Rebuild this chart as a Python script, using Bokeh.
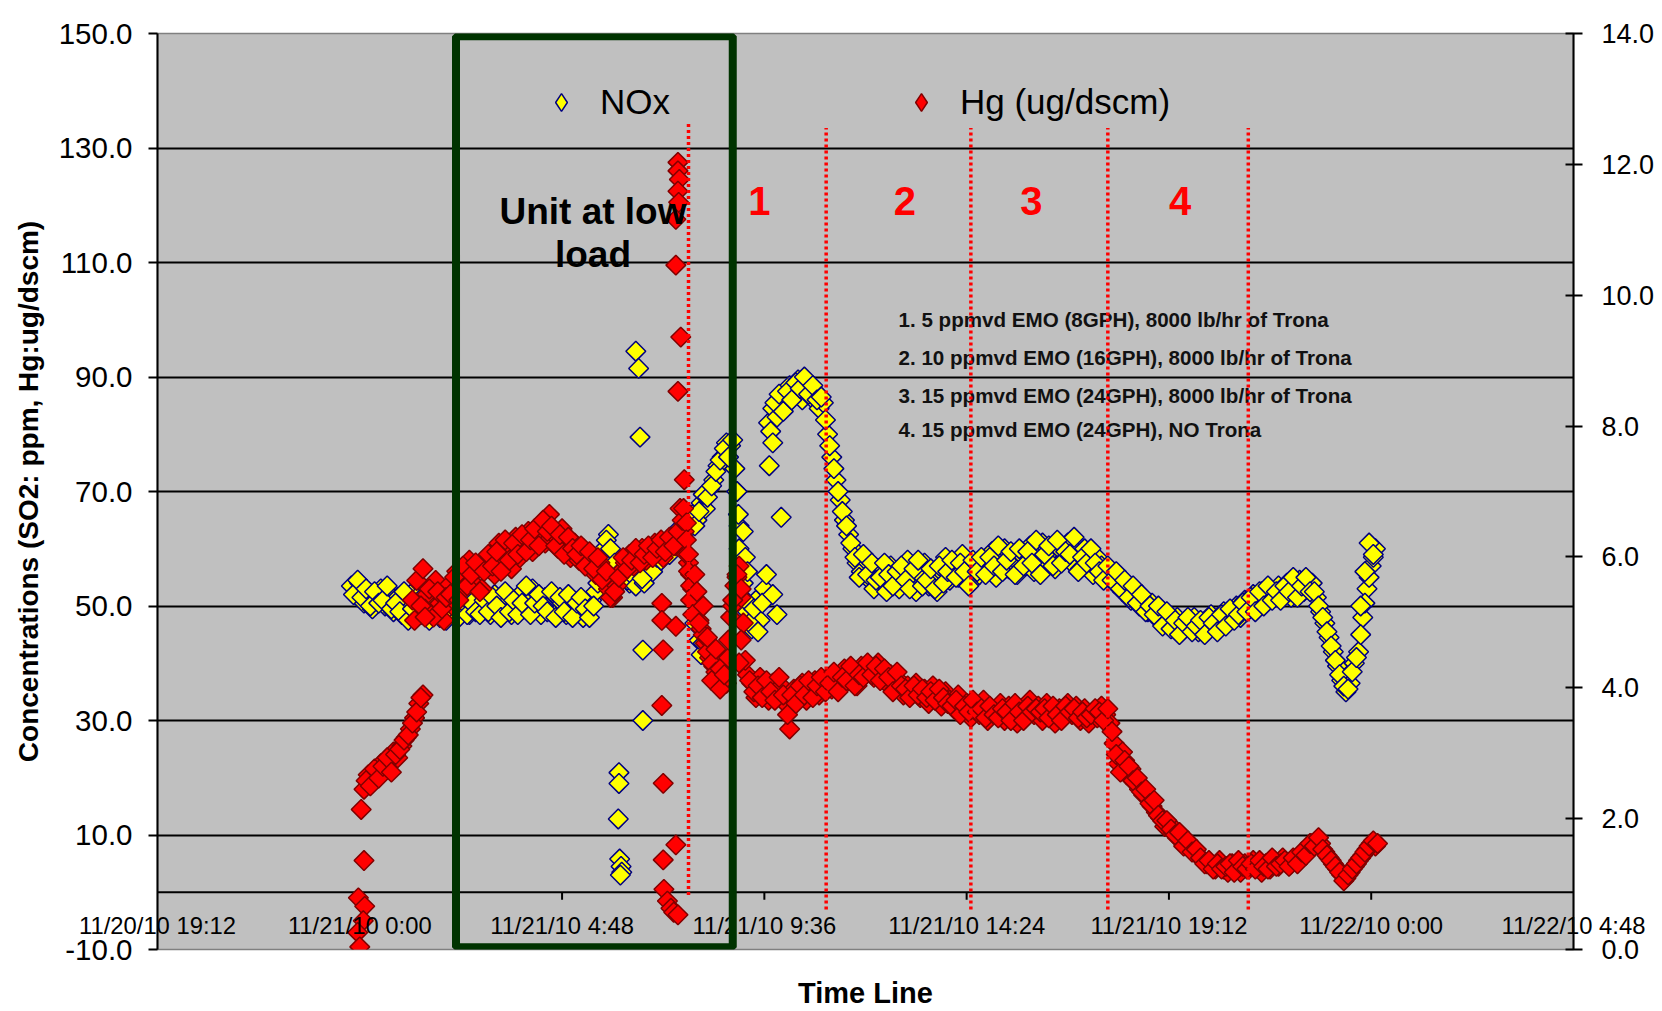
import numpy as np
import pandas as pd
from bokeh.plotting import figure
from bokeh.models import (Range1d, LinearAxis, FixedTicker, NumeralTickFormatter,
                          BoxAnnotation, Legend, LegendItem, ColumnDataSource, Span)
from bokeh.core.properties import value
from bokeh.embed import file_html
from bokeh.resources import INLINE

FONT = "Liberation Sans"

# ---------------- axes ----------------
x_tick_times = ["2010-11-20 19:12", "2010-11-21 00:00", "2010-11-21 04:48", "2010-11-21 09:36",
                "2010-11-21 14:24", "2010-11-21 19:12", "2010-11-22 00:00", "2010-11-22 04:48"]
x_tick_labels = ["11/20/10 19:12", "11/21/10 0:00", "11/21/10 4:48", "11/21/10 9:36",
                 "11/21/10 14:24", "11/21/10 19:12", "11/22/10 0:00", "11/22/10 4:48"]
y_left_ticks = [-10, 10, 30, 50, 70, 90, 110, 130, 150]
y_right_ticks = [0, 2, 4, 6, 8, 10, 12, 14]

# ---------------- NOx (ppm) ----------------
# readings on the 6-minute marks, starting 11/20/10 23:48
nox_start = "2010-11-20 23:48"
nox_ppm = [
    53.5, 52.0, 54.0, 50.5, 52.5, 49.5, 51.5, 53.0, 50.0, 52.0,
    49.0, 51.5, 48.5, 50.5, 52.0, 48.0, 50.0, 49.5, 51.0, 48.5,
    50.0, 48.0, 49.5, 51.0, 48.5, 50.0, 49.0, 51.5, 48.5, 50.0,
    51.0, 49.0, 50.5, 48.5, 52.0, 49.5, 50.0, 51.5, 48.5, 50.5,
    52.0, 49.5, 51.0, 53.0, 50.0, 48.5, 51.5, 50.0, 52.0, 49.0,
    50.5, 48.5, 51.0, 49.5, 50.0, 48.0, 49.5, 51.0, 52.5, 56.0,
    60.0, 62.5, 59.0, 56.5, 55.0, 57.0, 54.0, 56.0, 54.5, 55.5,
    56.5, 58.0, 57.0, 59.5, 60.0, 61.5, 60.5, 63.0, 62.0, 64.5,
    63.5, 66.0, 65.0, 68.0, 67.0, 70.5, 72.0, 74.5, 76.0, 78.5,
    78.0, 74.0, 64.0, 54.0, 49.0, 46.0, 51.0, 47.5, 53.0, 82.0,
    84.5, 83.0, 86.5, 85.0, 88.5, 87.0, 89.5, 86.0, 88.0, 86.5,
    87.5, 84.5, 85.5, 80.0, 76.0, 72.0, 68.5, 65.0, 62.5, 60.0,
    57.5, 56.0, 58.0, 54.5, 53.0, 56.5, 54.0, 52.5, 57.0, 54.5,
    53.0, 56.0, 58.0, 54.0, 52.5, 55.5, 57.5, 53.5, 55.0, 52.5,
    56.0, 58.5, 54.5, 57.0, 55.0, 59.0, 56.5, 54.0, 57.5, 55.5,
    58.0, 56.0, 59.5, 55.0, 57.5, 60.0, 56.5, 58.5, 55.5, 59.0,
    57.0, 60.5, 56.0, 58.5, 61.0, 57.5, 59.5, 56.5, 60.0, 58.0,
    61.0, 57.5, 59.5, 56.5, 60.0, 58.0, 55.5, 58.5, 57.0, 55.0,
    56.5, 54.0, 55.5, 52.5, 53.5, 51.0, 52.5, 50.0, 51.5, 49.0,
    50.5, 48.0, 49.5, 47.0, 48.5, 46.5, 48.0, 45.5, 47.5, 46.0,
    48.0, 45.5, 47.0, 46.0, 48.5, 46.5, 47.5, 49.0, 47.0, 48.5,
    50.0, 48.0, 51.0, 49.5, 52.0, 50.5, 52.5, 51.0, 53.0, 51.5,
    53.5, 52.0, 54.0, 51.5, 53.0, 54.5, 52.5, 54.0, 54.0, 51.5,
    49.0, 47.0, 44.5, 42.0, 39.5, 37.0, 35.0, 36.5, 40.0, 42.0,
    48.0, 53.0, 57.0, 60.0,
]
# readings 3 minutes after each 6-minute mark, starting 11/20/10 23:51
nox_start_b = "2010-11-20 23:51"
nox_ppm_b = [
    52.0, 54.5, 51.5, 53.0, 50.0, 52.5, 50.5, 51.0, 53.5, 49.5,
    50.5, 49.0, 52.5, 47.5, 49.5, 51.5, 48.5, 52.0, 47.5, 50.0,
    49.0, 51.5, 47.5, 49.0, 50.5, 48.0, 52.0, 48.5, 50.5, 49.0,
    48.5, 51.0, 49.0, 51.5, 50.0, 48.0, 52.5, 49.0, 51.0, 48.5,
    50.5, 53.5, 48.5, 50.5, 52.0, 50.0, 49.0, 52.5, 48.0, 51.5,
    49.0, 52.0, 48.0, 50.5, 51.5, 49.5, 48.0, 50.0, 54.0, 58.0,
    61.5, 60.0, 57.5, 55.5, 56.5, 54.5, 55.5, 53.5, 56.0, 54.0,
    57.5, 56.0, 58.5, 58.0, 61.0, 59.0, 62.0, 61.5, 63.5, 63.0,
    65.5, 64.0, 66.5, 69.5, 69.0, 71.0, 73.5, 75.5, 77.5, 76.0,
    79.0, 70.0, 58.0, 51.0, 47.0, 49.5, 45.5, 50.5, 55.5, 80.5,
    85.5, 87.0, 84.0, 87.5, 86.0, 89.0, 88.0, 90.0, 87.0, 88.5,
    86.0, 86.5, 82.5, 78.0, 74.0, 70.0, 66.5, 64.0, 61.0, 58.5,
    55.0, 59.0, 55.5, 57.5, 54.5, 55.0, 57.5, 55.5, 53.5, 56.0,
    57.0, 54.5, 53.0, 56.5, 58.0, 53.5, 54.5, 56.5, 53.0, 57.0,
    54.0, 56.0, 58.0, 55.0, 57.5, 56.0, 53.5, 58.0, 56.0, 58.5,
    55.5, 58.5, 57.0, 60.5, 56.0, 58.0, 59.5, 55.5, 60.0, 57.0,
    59.5, 57.5, 61.5, 55.5, 59.0, 60.5, 57.0, 61.5, 57.5, 59.5,
    59.0, 62.0, 56.0, 58.5, 57.5, 60.0, 57.5, 56.0, 54.5, 57.0,
    54.5, 56.0, 53.0, 54.5, 51.5, 53.5, 50.5, 52.0, 49.0, 50.0,
    48.5, 50.0, 46.5, 49.0, 46.0, 47.5, 45.0, 47.0, 48.0, 45.5,
    46.5, 47.5, 45.0, 48.0, 47.0, 45.5, 48.5, 46.5, 49.5, 47.5,
    48.5, 50.5, 49.0, 51.5, 49.0, 52.5, 50.0, 53.5, 51.0, 52.5,
    51.0, 53.5, 52.5, 55.0, 51.5, 53.5, 55.0, 52.5, 52.5, 50.0,
    48.0, 45.5, 43.0, 40.5, 38.0, 36.0, 35.5, 38.5, 41.0, 45.0,
    50.5, 55.0, 58.5,
]
# irregular NOx readings (unit upsets / transitions)
nox_extra_time = [
    "2010-11-21 06:09", "2010-11-21 06:09", "2010-11-21 06:08", "2010-11-21 06:10",
    "2010-11-21 06:12", "2010-11-21 06:13", "2010-11-21 06:11",
    "2010-11-21 06:33", "2010-11-21 06:37", "2010-11-21 06:39", "2010-11-21 06:42",
    "2010-11-21 06:43", "2010-11-21 06:43",
    "2010-11-21 07:57", "2010-11-21 08:03", "2010-11-21 08:06", "2010-11-21 08:09",
    "2010-11-21 08:57", "2010-11-21 08:59", "2010-11-21 09:00", "2010-11-21 09:01",
    "2010-11-21 09:06", "2010-11-21 09:09", "2010-11-21 09:12",
    "2010-11-21 09:43", "2010-11-21 09:48", "2010-11-21 10:00", "2010-11-21 09:48",
    "2010-11-21 09:54",
    "2010-11-21 23:45", "2010-11-21 23:51", "2010-11-21 23:57", "2010-11-22 00:03",
]
nox_extra_ppm = [
    20.9, 19.0, 12.8, 5.8, 4.5, 3.5, 3.0,
    94.5, 91.5, 79.5, 54.8, 42.3, 30.0,
    47.0, 44.0, 41.5, 43.5,
    70.0, 66.0, 60.0, 57.0, 63.0, 58.5, 56.0,
    74.5, 78.5, 65.5, 52.0, 48.5,
    50.0, 56.0, 61.0, 59.0,
]

# ---------------- Hg (ug/dscm), right axis ----------------
hg_start = "2010-11-21 00:06"
hg_ugdscm = [
    2.45, 2.67, 2.58, 2.71, 2.84, 2.76, 2.89, 3.02, 2.93, 3.11,
    3.24, 3.37, 3.54, 3.76, 3.89, 5.43, 5.16, 5.64, 5.29, 5.03,
    5.56, 5.25, 5.78, 5.47, 5.69, 5.95, 5.60, 5.82, 5.51, 5.91,
    6.04, 5.73, 6.21, 5.91, 6.13, 5.82, 6.30, 5.99, 6.17, 6.39,
    6.08, 6.34, 6.52, 6.21, 6.65, 6.34, 6.13, 6.43, 6.21, 5.99,
    6.21, 5.95, 6.13, 5.86, 6.04, 5.73, 5.91, 5.64, 5.51, 5.38,
    5.56, 5.78, 5.91, 6.04, 5.86, 5.99, 6.13, 5.95, 6.08, 6.21,
    6.13, 5.99, 6.21, 6.30, 6.17, 6.74, 6.39, 5.91, 5.51, 5.16,
    4.90, 4.68, 4.46, 4.33, 4.16, 4.42, 4.07, 5.08, 5.56, 5.86,
    4.99, 4.20, 4.07, 3.85, 4.16, 3.94, 3.81, 4.07, 3.89, 4.03,
    3.76, 3.37, 3.98, 3.85, 4.07, 3.81, 3.94, 4.11, 3.89, 4.03,
    4.16, 3.98, 4.20, 4.07, 4.29, 4.11, 4.24, 4.03, 4.33, 4.20,
    4.29, 4.16, 4.38, 4.24, 4.07, 4.20, 3.98, 4.11, 3.89, 4.03,
    3.94, 4.07, 3.85, 3.98, 3.76, 4.03, 3.89, 3.72, 3.94, 3.81,
    3.68, 3.89, 3.63, 3.76, 3.54, 3.72, 3.59, 3.81, 3.50, 3.68,
    3.63, 3.76, 3.50, 3.72, 3.59, 3.46, 3.68, 3.54, 3.81, 3.59,
    3.72, 3.50, 3.76, 3.63, 3.46, 3.68, 3.54, 3.76, 3.59, 3.72,
    3.50, 3.68, 3.46, 3.63, 3.54, 3.72, 3.59, 3.46, 3.15, 2.84,
    3.02, 2.67, 2.76, 2.54, 2.45, 2.36, 2.32, 2.19, 2.10, 2.01,
    1.88, 1.93, 1.79, 1.71, 1.66, 1.62, 1.53, 1.49, 1.44, 1.36,
    1.31, 1.27, 1.23, 1.36, 1.23, 1.18, 1.31, 1.27, 1.18, 1.31,
    1.23, 1.36, 1.27, 1.18, 1.31, 1.23, 1.36, 1.27, 1.40, 1.31,
    1.31, 1.36, 1.40, 1.49, 1.53, 1.62, 1.66, 1.62, 1.49, 1.40,
    1.31, 1.23, 1.14, 1.09, 1.18, 1.27, 1.36, 1.44, 1.53, 1.62,
    1.58,
]
hg_start_b = "2010-11-21 00:09"
hg_ugdscm_b = [
    2.58, 2.50, 2.76, 2.62, 2.80, 2.93, 2.71, 2.98, 3.06, 3.20,
    3.28, 3.46, 3.63, 3.85, 5.20, 5.51, 5.08, 5.47, 5.21, 5.38,
    5.43, 5.69, 5.34, 5.86, 5.56, 5.73, 5.91, 5.47, 5.78, 6.04,
    5.86, 6.08, 5.78, 6.26, 5.95, 6.21, 6.04, 6.34, 6.08, 6.26,
    6.43, 6.17, 6.56, 6.39, 6.47, 6.17, 6.34, 6.04, 6.30, 6.13,
    6.04, 6.17, 5.86, 6.08, 5.82, 5.99, 5.65, 5.78, 5.38, 5.47,
    5.69, 5.99, 5.82, 5.95, 6.13, 5.91, 6.04, 6.17, 5.99, 6.13,
    6.26, 6.08, 6.30, 6.17, 6.39, 6.56, 6.04, 5.73, 5.34, 5.03,
    4.81, 4.55, 4.38, 4.24, 4.29, 4.11, 4.46, 5.25, 5.69, 5.38,
    4.42, 4.11, 3.94, 4.03, 3.85, 4.11, 3.94, 3.81, 4.16, 3.89,
    3.59, 3.89, 3.76, 4.03, 3.89, 4.11, 3.85, 4.03, 4.16, 3.94,
    4.07, 4.24, 3.94, 4.16, 4.11, 4.33, 4.03, 4.20, 4.16, 4.38,
    4.20, 4.33, 4.11, 4.29, 4.16, 3.94, 4.24, 4.03, 3.98, 3.85,
    4.03, 3.89, 3.98, 3.85, 3.94, 3.81, 3.98, 3.85, 3.76, 3.72,
    3.81, 3.59, 3.72, 3.63, 3.81, 3.63, 3.68, 3.54, 3.72, 3.59,
    3.54, 3.68, 3.63, 3.50, 3.76, 3.63, 3.50, 3.72, 3.63, 3.68,
    3.63, 3.68, 3.54, 3.72, 3.59, 3.50, 3.72, 3.63, 3.68, 3.54,
    3.63, 3.54, 3.59, 3.68, 3.63, 3.50, 3.68, 3.33, 2.98, 2.71,
    2.89, 2.80, 2.58, 2.62, 2.41, 2.45, 2.23, 2.28, 2.05, 1.97,
    1.97, 1.84, 1.75, 1.79, 1.58, 1.66, 1.49, 1.53, 1.40, 1.31,
    1.36, 1.23, 1.31, 1.23, 1.27, 1.31, 1.18, 1.36, 1.27, 1.23,
    1.31, 1.23, 1.36, 1.27, 1.23, 1.40, 1.27, 1.31, 1.36, 1.27,
    1.40, 1.31, 1.49, 1.44, 1.62, 1.58, 1.71, 1.53, 1.44, 1.36,
    1.27, 1.18, 1.05, 1.14, 1.23, 1.31, 1.40, 1.49, 1.58, 1.66,
    1.62,
]
hg_extra_time = [
    "2010-11-21 00:02", "2010-11-21 00:06", "2010-11-20 23:58", "2010-11-21 00:07",
    "2010-11-21 00:05", "2010-11-20 23:57", "2010-11-21 00:00",
    "2010-11-21 01:15", "2010-11-21 01:18", "2010-11-21 01:21", "2010-11-21 01:27",
    "2010-11-21 01:30", "2010-11-21 01:33",
    "2010-11-21 07:10", "2010-11-21 07:10", "2010-11-21 07:30", "2010-11-21 07:12",
    "2010-11-21 07:10", "2010-11-21 07:12", "2010-11-21 07:30", "2010-11-21 07:12",
    "2010-11-21 07:13", "2010-11-21 07:18", "2010-11-21 07:23", "2010-11-21 07:27",
    "2010-11-21 07:33",
    "2010-11-21 07:33", "2010-11-21 07:33", "2010-11-21 07:35", "2010-11-21 07:33",
    "2010-11-21 07:34", "2010-11-21 07:30", "2010-11-21 07:30", "2010-11-21 07:37",
    "2010-11-21 07:33", "2010-11-21 07:42", "2010-11-21 07:41",
    "2010-11-21 07:45", "2010-11-21 07:45", "2010-11-21 07:48", "2010-11-21 07:48",
    "2010-11-21 07:51", "2010-11-21 07:51", "2010-11-21 07:54", "2010-11-21 07:57",
    "2010-11-21 08:00",
    "2010-11-21 08:03", "2010-11-21 08:09", "2010-11-21 08:15", "2010-11-21 08:21",
    "2010-11-21 08:27", "2010-11-21 08:33", "2010-11-21 08:39", "2010-11-21 08:45",
    "2010-11-21 08:51", "2010-11-21 08:57", "2010-11-21 09:03", "2010-11-21 09:03",
    "2010-11-21 09:00",
]
hg_extra = [
    2.14, 1.36, 0.79, 0.66, 0.44, 0.26, 0.04,
    5.34, 5.03, 5.64, 5.25, 5.82, 5.08,
    5.29, 5.03, 4.94, 4.58, 3.73, 2.54, 1.60, 1.37, 0.92, 0.74, 0.63, 0.57, 0.53,
    12.03, 11.90, 11.77, 11.59, 11.42, 11.16, 10.46, 9.36, 8.53, 7.18, 6.74,
    6.52, 6.26, 6.04, 5.78, 5.56, 5.34, 5.12, 5.73, 5.47,
    4.99, 5.25, 4.77, 4.11, 4.59, 3.98, 4.20, 4.73, 5.34, 5.73, 5.51, 4.73, 4.38,
]

# ---------------- annotations ----------------
low_load_start, low_load_end = "2010-11-21 02:17", "2010-11-21 08:51"
low_load_box_bottom, low_load_box_top = -9.6, 149.5
phase_times = ["2010-11-21 07:48", "2010-11-21 11:04", "2010-11-21 14:30",
               "2010-11-21 17:45", "2010-11-21 21:05"]
phase_top = [134.5, 133.5, 133.5, 133.5, 133.5]
phase_bottom = [-0.5, -3.0, -3.0, -3.0, -3.0]
phase_labels = ["1", "2", "3", "4"]
phase_label_times = ["2010-11-21 09:29", "2010-11-21 12:56", "2010-11-21 15:56", "2010-11-21 19:28"]
phase_label_y = 120.7
conditions = ["1. 5 ppmvd EMO (8GPH), 8000 lb/hr of Trona",
              "2. 10 ppmvd EMO (16GPH), 8000 lb/hr of Trona",
              "3. 15 ppmvd EMO (24GPH), 8000 lb/hr of Trona",
              "4. 15 ppmvd EMO (24GPH), NO Trona"]
conditions_time = "2010-11-21 12:47"
conditions_y = [100.0, 93.4, 86.8, 80.8]
low_load_text = ["Unit at low", "load"]
low_load_text_time = "2010-11-21 05:32"
low_load_text_y = [118.9, 111.4]


def ms(ts):
    return pd.Timestamp(ts).value / 1e6


def ms_list(seq):
    return [ms(t) for t in seq]


def grid_ms(start, n):
    return list(pd.date_range(start, periods=n, freq="6min").asi8 / 1e6)


nox_x = grid_ms(nox_start, len(nox_ppm)) + grid_ms(nox_start_b, len(nox_ppm_b)) + ms_list(nox_extra_time)
nox_y = nox_ppm + nox_ppm_b + nox_extra_ppm
hg_x = grid_ms(hg_start, len(hg_ugdscm)) + grid_ms(hg_start_b, len(hg_ugdscm_b)) + ms_list(hg_extra_time)
hg_y = hg_ugdscm + hg_ugdscm_b + hg_extra

tick_ms = ms_list(x_tick_times)

p = figure(frame_width=1416, frame_height=916,
           x_range=Range1d(tick_ms[0], tick_ms[-1]), y_range=Range1d(-10, 150),
           output_backend="svg", toolbar_location=None,
           min_border_left=157, min_border_right=89, min_border_top=33, min_border_bottom=62,
           background_fill_color="#C0C0C0", border_fill_color="white")
p.outline_line_color = "#808080"
p.outline_line_width = 1.5
p.extra_y_ranges = {"hg": Range1d(0, 14)}

# x axis: labels sit inside the plot area, below the zero line (Excel "low" position)
xa = p.xaxis[0]
xa.ticker = FixedTicker(ticks=tick_ms)
xa.major_label_overrides = {t: lab for t, lab in zip(tick_ms, x_tick_labels)}
xa.axis_line_color = None
xa.major_tick_line_color = None
xa.minor_tick_line_color = None
xa.major_tick_out = 0
xa.major_tick_in = 0
xa.major_label_standoff = -38
xa.major_label_text_font = FONT
xa.major_label_text_font_size = "23.8px"
xa.major_label_text_color = "black"
xa.axis_label = "Time Line"
xa.axis_label_text_font = FONT
xa.axis_label_text_font_style = "bold"
xa.axis_label_text_font_size = "29px"
xa.axis_label_text_color = "black"
xa.axis_label_standoff = 35

ya = p.yaxis[0]
ya.ticker = FixedTicker(ticks=y_left_ticks)
ya.formatter = NumeralTickFormatter(format="0.0")
ya.axis_line_color = "black"
ya.axis_line_width = 2
ya.major_tick_out = 9
ya.major_tick_in = 0
ya.major_tick_line_width = 2
ya.minor_tick_line_color = None
ya.major_label_standoff = 16
ya.major_label_text_font = FONT
ya.major_label_text_font_size = "29.5px"
ya.major_label_text_color = "black"
ya.axis_label = "Concentrations (SO2: ppm, Hg:ug/dscm)"
ya.axis_label_text_font = FONT
ya.axis_label_text_font_style = "bold"
ya.axis_label_text_font_size = "28px"
ya.axis_label_text_color = "black"
ya.axis_label_standoff = 12

ra = LinearAxis(y_range_name="hg", ticker=FixedTicker(ticks=y_right_ticks),
                formatter=NumeralTickFormatter(format="0.0"))
ra.axis_line_color = "black"
ra.axis_line_width = 2
ra.major_tick_out = 9
ra.major_tick_in = 8
ra.major_tick_line_width = 2
ra.minor_tick_line_color = None
ra.major_label_standoff = 19
ra.major_label_text_font = FONT
ra.major_label_text_font_size = "27px"
ra.major_label_text_color = "black"
p.add_layout(ra, "right")

p.xgrid.visible = False
p.ygrid.grid_line_color = "black"
p.ygrid.grid_line_width = 2

zero_line = Span(location=0, dimension="width", line_color="black", line_width=2, level="underlay")
p.add_layout(zero_line)
p.segment(x0=tick_ms[1:-1], x1=tick_ms[1:-1], y0=[0] * 6, y1=[-1.3] * 6,
          line_color="black", line_width=2)

marker_kw = dict(marker="square", angle=np.pi / 4, size=14, line_width=1.5)
r_nox = p.scatter(x="x", y="y", source=ColumnDataSource(dict(x=nox_x, y=nox_y)),
                  fill_color="#FFFF00", line_color="#000080", **marker_kw)
r_hg = p.scatter(x="x", y="y", source=ColumnDataSource(dict(x=hg_x, y=hg_y)), y_range_name="hg",
                 fill_color="#FF0000", line_color="#800000", **marker_kw)

# legend swatches (diamonds) for the two series; their single point is NaN so nothing is plotted
sw_nox = p.scatter(x=[tick_ms[0]], y=[np.nan], marker="diamond", fill_color="#FFFF00",
                   line_color="#000080", line_width=1.5)
sw_hg = p.scatter(x=[tick_ms[0]], y=[np.nan], marker="diamond", fill_color="#FF0000",
                  line_color="#800000", line_width=1.5)

p.text(x=[ms(low_load_text_time)] * 2, y=low_load_text_y, text=low_load_text,
       text_font=value(FONT), text_font_style="bold", text_font_size="37px",
       text_align="center", text_baseline="middle", text_color="black")
p.text(x=[ms(conditions_time)] * 4, y=conditions_y, text=conditions,
       text_font=value(FONT), text_font_style="bold", text_font_size="20.6px",
       text_align="left", text_baseline="middle", text_color="#111111")
p.text(x=ms_list(phase_label_times), y=[phase_label_y] * 4, text=phase_labels,
       text_font=value(FONT), text_font_style="bold", text_font_size="40px",
       text_align="center", text_baseline="middle", text_color="#FF0000")

p.segment(x0=ms_list(phase_times), x1=ms_list(phase_times), y0=phase_bottom, y1=phase_top,
          line_color="#FF0000", line_width=3.5, line_dash="3 3")

box = BoxAnnotation(left=ms(low_load_start), right=ms(low_load_end),
                    bottom=low_load_box_bottom, top=low_load_box_top,
                    fill_alpha=0, line_color="#003300", line_alpha=1.0, line_width=8)
p.add_layout(box)

legend = Legend(items=[LegendItem(label="NOx", renderers=[sw_nox]),
                       LegendItem(label="Hg (ug/dscm)", renderers=[sw_hg])],
                orientation="horizontal", location=(382, 825), spacing=229,
                padding=0, margin=0, glyph_width=44, glyph_height=44, label_standoff=17,
                label_text_font=FONT, label_text_font_size="35px", label_text_color="black",
                border_line_color=None, background_fill_alpha=0)
p.add_layout(legend)

open("out.html", "w").write(file_html(p, INLINE))
